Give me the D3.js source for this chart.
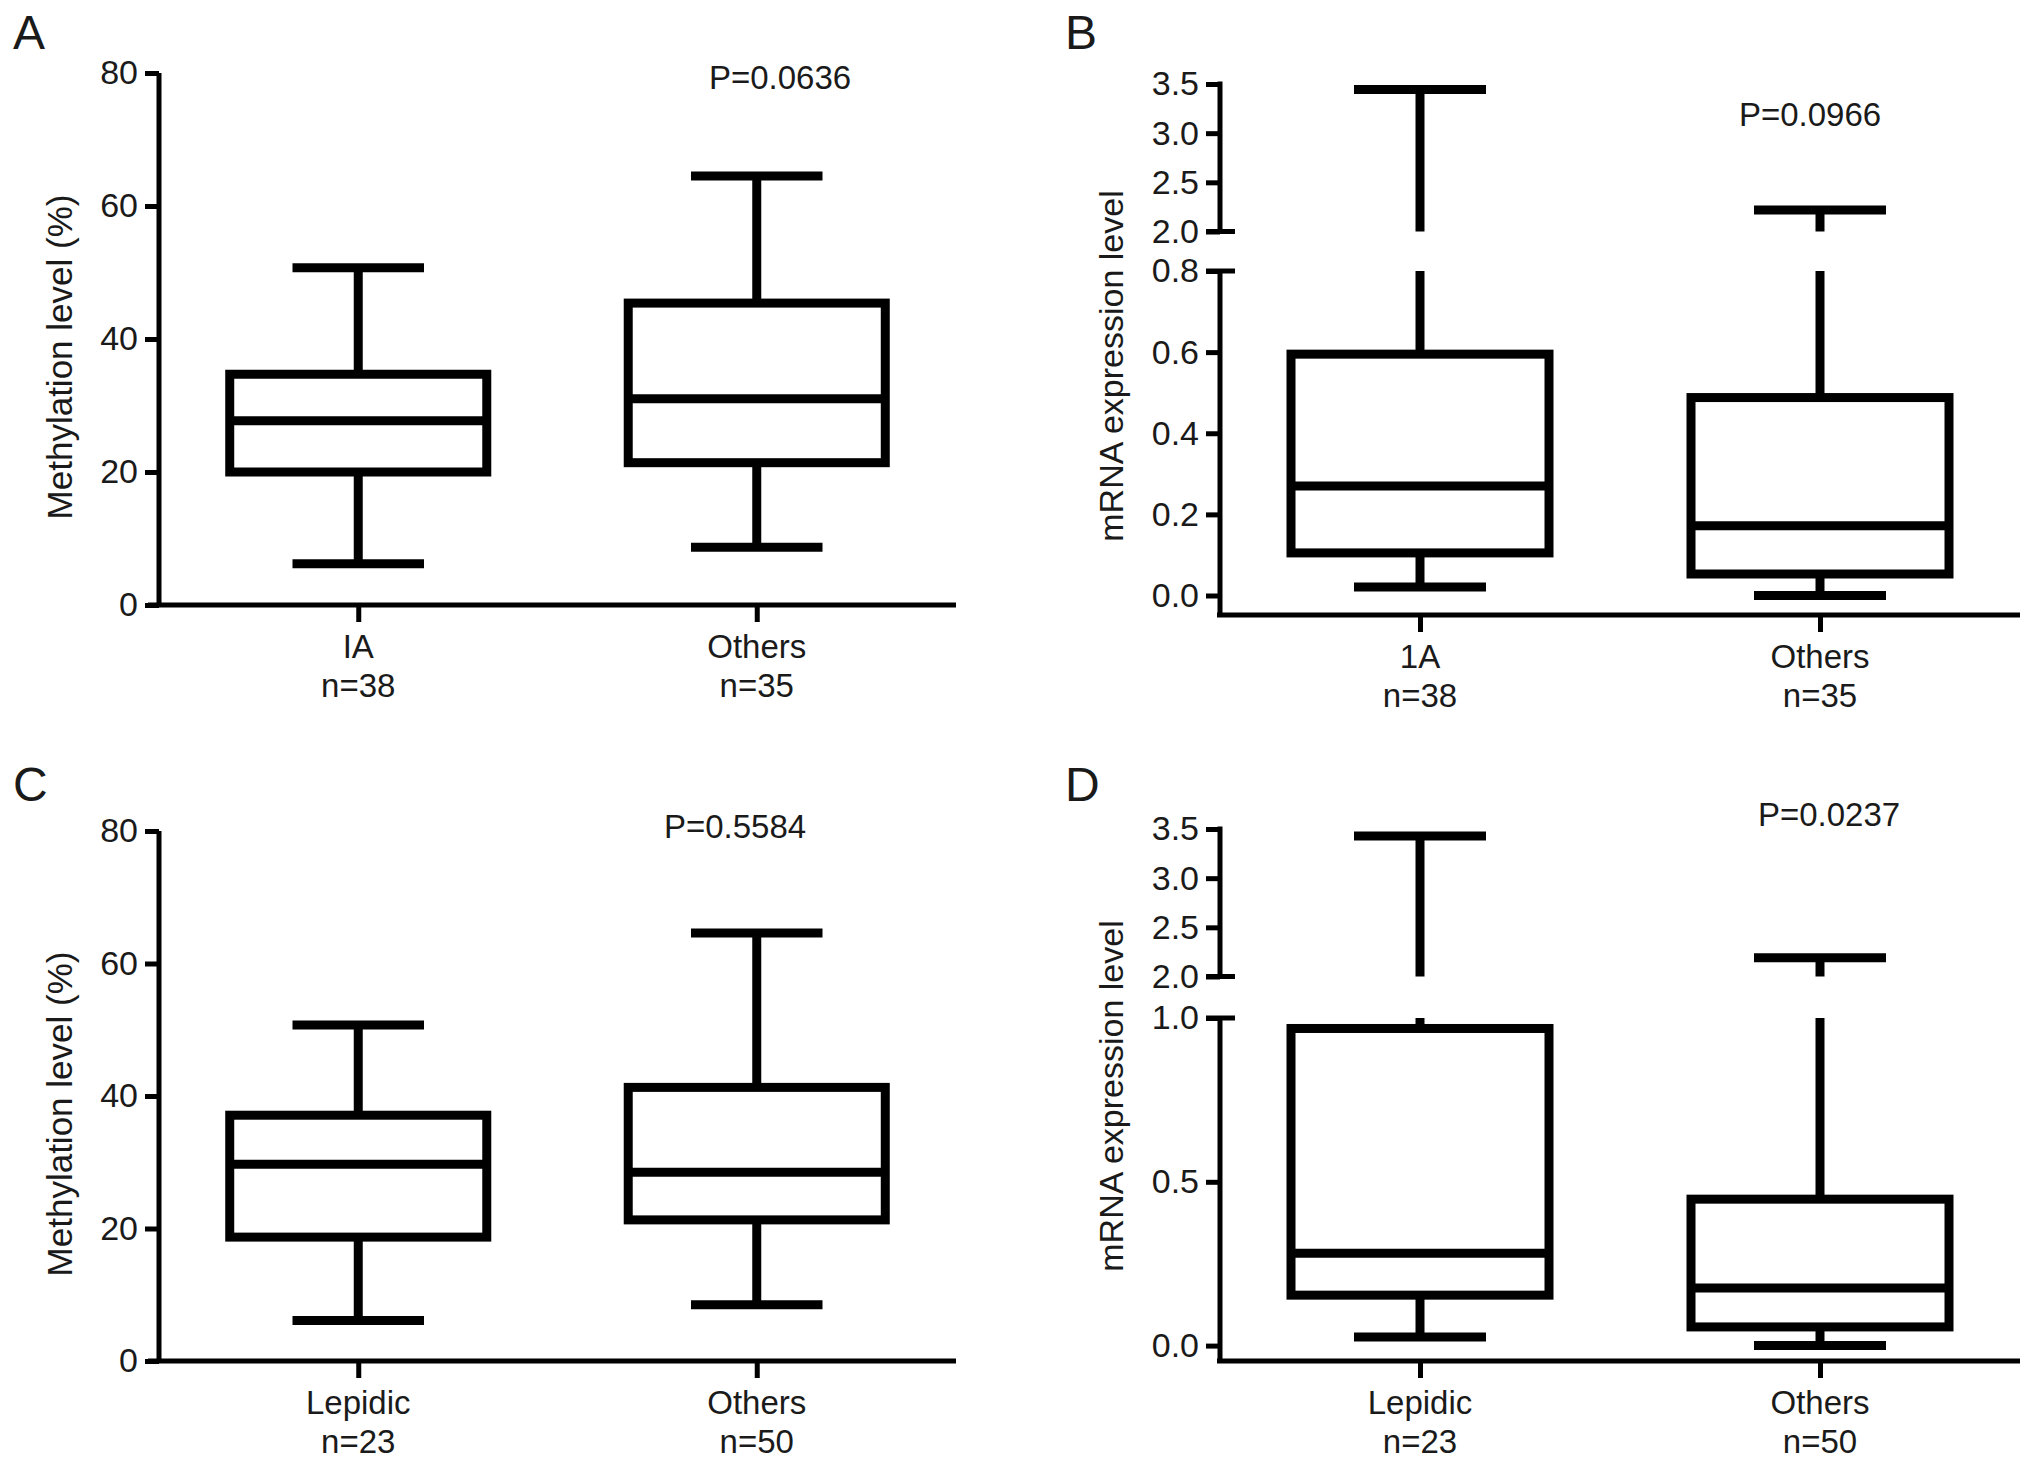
<!DOCTYPE html>
<html>
<head>
<meta charset="utf-8">
<script src="https://cdn.jsdelivr.net/npm/d3@7"></script>
<style>
  body { margin: 0; background: #fff; }
  text { font-family: "Liberation Sans", Arial, Helvetica, sans-serif; fill: #1a1a1a; }
</style>
</head>
<body>
<svg id="fig"></svg>
<script>
var width = 2032;
var height = 1469;

// box stats are [min, Q1, median, Q3, max]

// A: methylation by stage
var stageGroups = ["IA", "Others"];
var stageCounts = ["n=38", "n=35"];
var methStage = [[6.2, 20.0, 27.7, 34.7, 50.7], [8.7, 21.4, 31.0, 45.4, 64.5]];
var pMethStage = "P=0.0636";

// B: mRNA by stage
var stageGroupsB = ["1A", "Others"];
var mrnaStage = [[0.021, 0.105, 0.270, 0.595, 3.445], [0.0, 0.053, 0.172, 0.488, 2.219]];
var pMrnaStage = "P=0.0966";

// C: methylation by subtype
var typeGroups = ["Lepidic", "Others"];
var typeCounts = ["n=23", "n=50"];
var methType = [[6.1, 18.7, 29.7, 37.1, 50.7], [8.5, 21.3, 28.5, 41.3, 64.6]];
var pMethType = "P=0.5584";

// D: mRNA by subtype
var mrnaType = [[0.026, 0.154, 0.282, 0.968, 3.43], [0.0, 0.057, 0.176, 0.447, 2.19]];
var pMrnaType = "P=0.0237";

var methTicks = [0, 20, 40, 60, 80];
var upperTicks = [2.0, 2.5, 3.0, 3.5];
var lowerTicksB = [0.0, 0.2, 0.4, 0.6, 0.8];
var lowerTicksD = [0.0, 0.5, 1.0];

var svg = d3.select("#fig")
    .attr("width", width)
    .attr("height", height);

svg.append("rect")
    .attr("width", width)
    .attr("height", height)
    .attr("fill", "white");

var boxStroke = 9;
var axisStroke = 5;

function letter(t, x, y) {
    svg.append("text")
        .attr("x", x)
        .attr("y", y)
        .attr("font-size", 48)
        .text(t);
}

function bottomAxis(x, y0, startX, groups, counts) {
    var ax = svg.append("g")
        .attr("transform", "translate(0," + y0 + ")")
        .call(d3.axisBottom(x).tickSize(17).tickSizeOuter(0).tickFormat(""));
    ax.select(".domain").remove();
    ax.selectAll("line").attr("stroke", "black").attr("stroke-width", axisStroke);

    svg.append("line")
        .attr("x1", startX).attr("x2", x.range()[1])
        .attr("y1", y0).attr("y2", y0)
        .attr("stroke", "black")
        .attr("stroke-width", axisStroke);

    var lab = svg.append("g");
    lab.selectAll("text.cat")
        .data(groups)
        .enter().append("text")
        .attr("class", "cat")
        .attr("x", function(d) { return x(d); })
        .attr("y", y0 + 53)
        .attr("text-anchor", "middle")
        .attr("font-size", 33)
        .text(function(d) { return d; });
    lab.selectAll("text.n")
        .data(groups)
        .enter().append("text")
        .attr("class", "n")
        .attr("x", function(d) { return x(d); })
        .attr("y", y0 + 92)
        .attr("text-anchor", "middle")
        .attr("font-size", 33)
        .text(function(d, i) { return counts[i]; });
}

function leftAxis(scale, ticks, x0, fmt) {
    var ax = svg.append("g")
        .attr("transform", "translate(" + x0 + ",0)")
        .call(d3.axisLeft(scale).tickValues(ticks).tickSize(14).tickSizeOuter(0).tickPadding(7).tickFormat(d3.format(fmt)));
    ax.select(".domain").remove();
    ax.selectAll("line").attr("stroke", "black").attr("stroke-width", axisStroke);
    ax.selectAll("text")
        .attr("font-size", 34)
        .attr("fill", "#1a1a1a")
        .style("font-family", "'Liberation Sans', Arial, sans-serif");
    return ax;
}

function vline(x, y1, y2, w) {
    svg.append("line")
        .attr("x1", x).attr("x2", x)
        .attr("y1", y1).attr("y2", y2)
        .attr("stroke", "black")
        .attr("stroke-width", w);
}

function hline(x1, x2, y, w) {
    svg.append("line")
        .attr("x1", x1).attr("x2", x2)
        .attr("y1", y).attr("y2", y)
        .attr("stroke", "black")
        .attr("stroke-width", w);
}

function yTitle(t, cx, cy, size) {
    svg.append("text")
        .attr("transform", "translate(" + cx + "," + cy + ") rotate(-90)")
        .attr("text-anchor", "middle")
        .attr("font-size", size)
        .text(t);
}

function pText(t, x, y) {
    svg.append("text")
        .attr("x", x)
        .attr("y", y)
        .attr("text-anchor", "middle")
        .attr("font-size", 33)
        .text(t);
}

// box, median and lower whisker; the upper whisker is drawn by the panel
function drawBox(x, cat, s, y, boxW, capW) {
    var cx = x(cat);
    svg.append("rect")
        .attr("x", cx - boxW / 2)
        .attr("y", y(s[3]))
        .attr("width", boxW)
        .attr("height", y(s[1]) - y(s[3]))
        .attr("fill", "none")
        .attr("stroke", "black")
        .attr("stroke-width", boxStroke);
    hline(cx - boxW / 2, cx + boxW / 2, y(s[2]), boxStroke);
    vline(cx, y(s[1]), y(s[0]), boxStroke);
    hline(cx - capW / 2, cx + capW / 2, y(s[0]), boxStroke);
}

// ---------- methylation panels ----------
function methPanel(groups, counts, stats, p, top, bottom, pPos, lt) {
    var x0 = 159;
    var x = d3.scalePoint().domain(groups).range([x0, 956]).padding(0.5);
    var y = d3.scaleLinear().domain([0, 80]).range([bottom, top]);
    var boxW = 0.645 * x.step();
    var capW = 0.33 * x.step();

    letter(lt[0], lt[1], lt[2]);
    leftAxis(y, methTicks, x0, "d");
    vline(x0, y(80), y(0), axisStroke);
    bottomAxis(x, y(0), x0 - 11, groups, counts);
    yTitle("Methylation level (%)", 72, (top + bottom) / 2 + 18, 35);
    pText(p, pPos[0], pPos[1]);

    stats.forEach(function(s, i) {
        var cx = x(groups[i]);
        vline(cx, y(s[4]), y(s[3]), boxStroke);
        hline(cx - capW / 2, cx + capW / 2, y(s[4]), boxStroke);
        drawBox(x, groups[i], s, y, boxW, capW);
    });
}

// ---------- mRNA panels with broken axis ----------
function mrnaPanel(groups, counts, stats, p, lowTicks, geo, pPos, lt) {
    var x0 = 1220;
    var x = d3.scalePoint().domain(groups).range([x0, 2020]).padding(0.5);
    var lowMax = lowTicks[lowTicks.length - 1];
    var yUp = d3.scaleLinear().domain([2, 3.5]).range([geo.up2, geo.up35]);
    var yLow = d3.scaleLinear().domain([0, lowMax]).range([geo.low0, geo.lowTop]);
    var y = function(v) { return v > lowMax ? yUp(v) : yLow(v); };
    var boxW = 0.645 * x.step();
    var capW = 0.33 * x.step();

    letter(lt[0], lt[1], lt[2]);
    leftAxis(yUp, upperTicks, x0, ".1f");
    leftAxis(yLow, lowTicks, x0, ".1f");
    vline(x0, yUp(3.5) - axisStroke / 2, yUp(2), axisStroke);
    vline(x0, yLow(lowMax), geo.axisY, axisStroke);
    // break marks cross the axis
    hline(x0 - 14, x0 + 15, yUp(2), axisStroke);
    hline(x0 - 14, x0 + 15, yLow(lowMax), axisStroke);
    bottomAxis(x, geo.axisY, x0 - 3, groups, counts);
    yTitle("mRNA expression level", 1123, geo.titleY, 34);
    pText(p, pPos[0], pPos[1]);

    stats.forEach(function(s, i) {
        var cx = x(groups[i]);
        if (s[4] > lowMax) {
            vline(cx, yUp(s[4]), yUp(2), boxStroke);
            vline(cx, yLow(lowMax), yLow(s[3]), boxStroke);
            hline(cx - capW / 2, cx + capW / 2, yUp(s[4]), boxStroke);
        } else {
            vline(cx, yLow(s[4]), yLow(s[3]), boxStroke);
            hline(cx - capW / 2, cx + capW / 2, yLow(s[4]), boxStroke);
        }
        drawBox(x, groups[i], s, y, boxW, capW);
    });
}

methPanel(stageGroups, stageCounts, methStage, pMethStage, 73, 605, [780, 89], ["A", 13, 49]);
methPanel(typeGroups, typeCounts, methType, pMethType, 831, 1361, [735, 838], ["C", 13, 801]);

mrnaPanel(stageGroupsB, stageCounts, mrnaStage, pMrnaStage, lowerTicksB,
    {up35: 84, up2: 231.5, lowTop: 271, low0: 595.5, axisY: 615, titleY: 366},
    [1810, 126], ["B", 1065, 49]);
mrnaPanel(typeGroups, typeCounts, mrnaType, pMrnaType, lowerTicksD,
    {up35: 829, up2: 976.5, lowTop: 1018, low0: 1345.6, axisY: 1361, titleY: 1096},
    [1829, 826], ["D", 1065, 801]);
</script>
</body>
</html>
